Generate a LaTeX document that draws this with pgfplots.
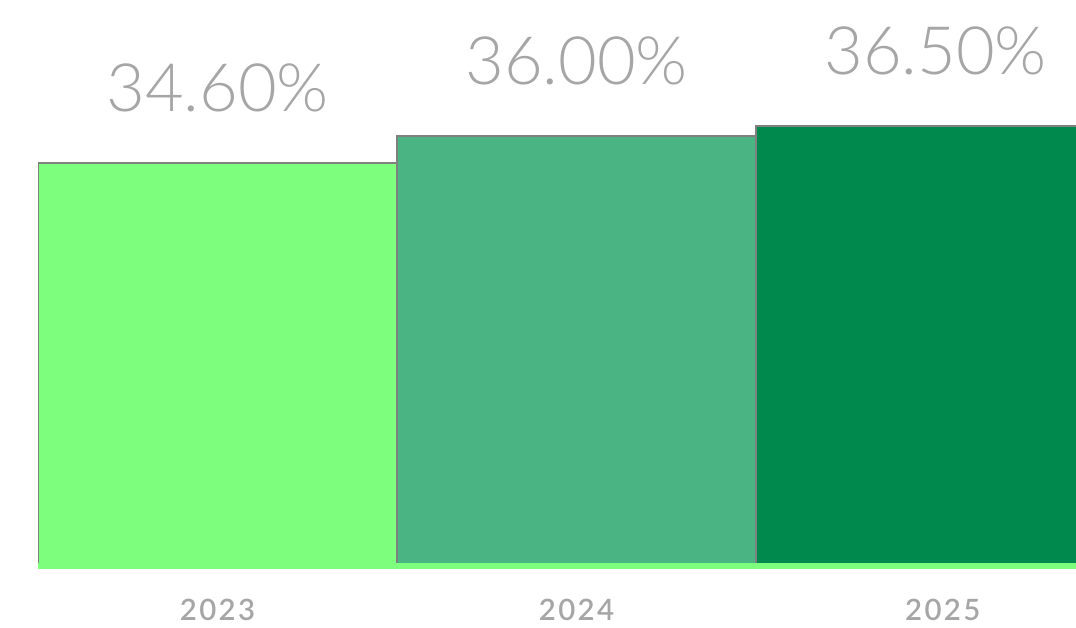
\documentclass[border=0pt]{standalone}
\usepackage{pgfplots}
\pgfplotsset{compat=1.18}
\usepackage{fontspec}
\setmainfont{Lato}
\newfontfamily\labfont{Lato Light}
\newfontfamily\yearfont[LetterSpace=8]{Lato Semibold}
\definecolor{c1}{RGB}{125,255,125}
\definecolor{c2}{RGB}{74,181,130}
\definecolor{c3}{RGB}{0,137,77}
\definecolor{edge}{RGB}{128,128,128}
\definecolor{txt}{RGB}{166,166,166}
\begin{document}
\begin{tikzpicture}[x=1bp,y=1bp]
\path[use as bounding box] (0,0) rectangle (1076,628);
\begin{axis}[
  at={(38bp,62bp)}, anchor=south west,
  scale only axis, width=1038bp, height=566bp,
  xmin=-0.5, xmax=2.391, ymin=13.93, ymax=42.96,
  axis x line*=bottom, axis y line=none,
  x axis line style={draw=c1, line width=6bp, -},
  axis on top,
  ybar, bar width=1, bar shift=0pt,
  xtick={0,1,2.02}, xticklabels={2023,2024,2025},
  major tick length=0pt,
  xticklabel style={font=\yearfont\fontsize{29.5}{29.5}\selectfont, text=txt, anchor=north, inner sep=0pt, yshift=-32.5bp},
  ytick=\empty,
  nodes near coords, point meta=explicit symbolic,
  every node near coord/.append style={font=\labfont\fontsize{67}{67}\selectfont, text=txt, anchor=base, yshift=51bp},
]
\addplot[fill=c1, draw=edge, line width=2bp] coordinates {(0,34.6) [34.60\%]};
\addplot[fill=c2, draw=edge, line width=2bp] coordinates {(1,36.0) [36.00\%]};
\addplot[fill=c3, draw=edge, line width=2bp] coordinates {(2,36.5) [36.50\%]};
\end{axis}
\end{tikzpicture}
\end{document}
